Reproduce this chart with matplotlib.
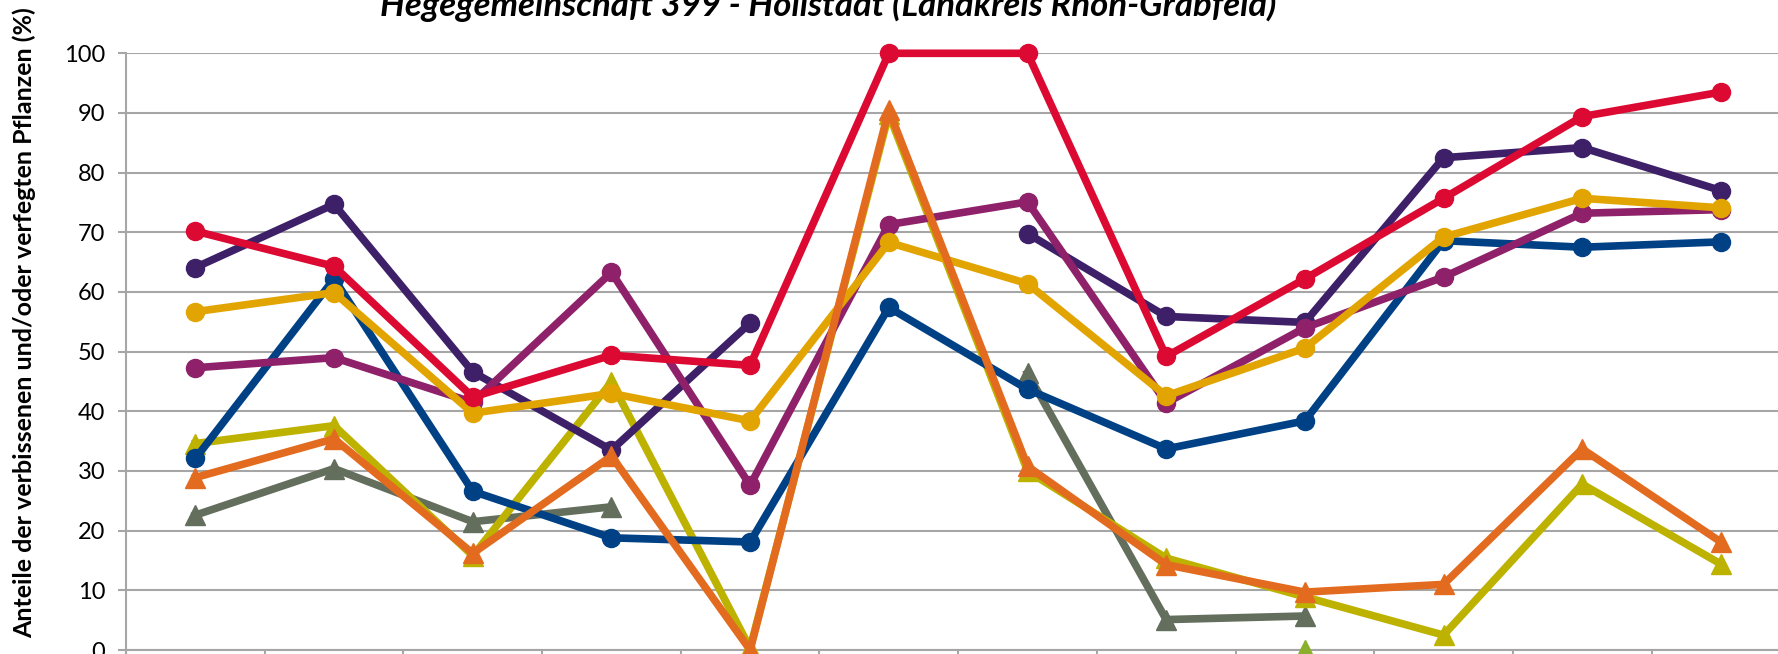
import matplotlib.pyplot as plt
import numpy as np

nan = np.nan

# 12 Aufnahmen (Beschriftung der x-Achse ist abgeschnitten)
x = np.arange(1, 13)

rot = [70.2, 64.3, 42.4, 49.4, 47.7, 100, 100, 49.2, 62.2, 75.7, 89.4, 93.5]
lila = [64.1, 74.7, 46.6, 33.5, 54.8, nan, 69.8, 55.9, 54.9, 82.5, 84.2, 77.0]
pflaume = [47.3, 49.0, 41.5, 63.3, 27.6, 71.3, 75.1, 41.4, 54.0, 62.5, 73.2, 73.8]
gold = [56.7, 59.9, 39.7, 43.0, 38.4, 68.3, 61.4, 42.6, 50.6, 69.2, 75.7, 74.1]
blau = [32.1, 62.2, 26.6, 18.8, 18.1, 57.4, 43.7, 33.7, 38.4, 68.6, 67.5, 68.4]
limette = [34.6, 37.6, 15.8, 44.9, 0.3, 89.8, 30.0, 15.4, 8.9, 2.5, 27.8, 14.4]
orange = [28.9, 35.4, 16.2, 32.5, 0, 90.5, 30.8, 14.3, 9.7, 11.0, 33.7, 18.1]
grau = [22.6, 30.4, 21.5, 24.0, nan, nan, 46.4, 5.1, 5.7, nan, nan, nan]
gruen = [nan, nan, nan, nan, nan, nan, nan, nan, 0, nan, nan, nan]

plt.rcParams['font.family'] = 'Lato'

fig = plt.figure(figsize=(17.78, 6.54), dpi=100)
ax = fig.add_axes([0.0709, 0.0061, 0.936, 0.9124])

lw = 5.5
ax.plot(x, gruen, color='#8CAF2D', lw=lw, marker='^', ms=14, zorder=3, clip_on=False)
ax.plot(x, grau, color='#646E5D', lw=lw, marker='^', ms=14, zorder=3)
ax.plot(x, limette, color='#BDB200', lw=lw, marker='^', ms=14, zorder=3, clip_on=False)
ax.plot(x, blau, color='#004185', lw=lw, marker='o', ms=13, zorder=3)
ax.plot(x, lila, color='#3D2068', lw=lw, marker='o', ms=13, zorder=3)
ax.plot(x, pflaume, color='#8E2169', lw=lw, marker='o', ms=13, zorder=3)
ax.plot(x, gold, color='#E2A400', lw=lw, marker='o', ms=13, zorder=3)
ax.plot(x, rot, color='#DC0A32', lw=lw, marker='o', ms=13, zorder=3, clip_on=False)
ax.plot(x, orange, color='#E36B1F', lw=lw, marker='^', ms=14, zorder=3, clip_on=False)

ax.set_xlim(0.5, 12.5)
ax.set_ylim(0, 100)
ax.set_yticks(range(0, 101, 10))
ax.set_xticks(np.arange(0.5, 13, 1))
ax.set_xticklabels([])
ax.grid(axis='y', color='#A6A6A6', lw=1.5)
ax.set_axisbelow(True)
for s in ['top', 'right']:
    ax.spines[s].set_visible(False)
for s in ['left', 'bottom']:
    ax.spines[s].set_color('#A6A6A6')
    ax.spines[s].set_linewidth(1.5)
ax.tick_params(axis='y', length=6, width=1.5, color='#A6A6A6', pad=9, labelsize=17)
ax.tick_params(axis='x', length=6, width=1.5, color='#A6A6A6')

fig.text(0.0135, 0.506, 'Anteile der verbissenen und/oder verfegten Pflanzen (%)',
         rotation=90, ha='center', va='center', fontsize=18, fontweight='bold')
fig.text(0.4657, 0.976, 'Hegegemeinschaft 399 - Hollstadt (Landkreis Rhön-Grabfeld)',
         ha='center', va='baseline', fontsize=25, fontweight='bold', fontstyle='italic')

fig.savefig('out.png', dpi=100)
